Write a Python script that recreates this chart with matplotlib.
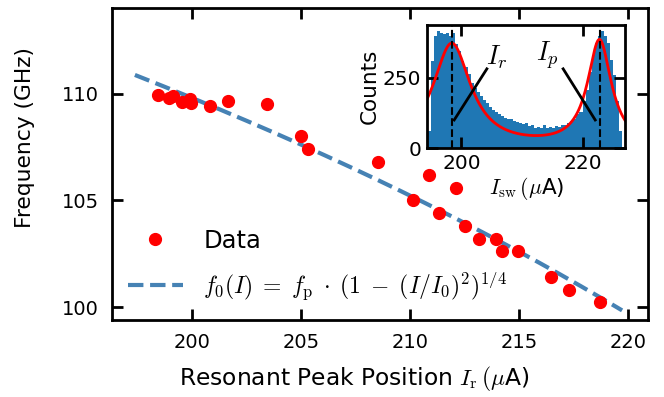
import numpy as np
import matplotlib
matplotlib.use("Agg")
import matplotlib.pyplot as plt

plt.rcParams['mathtext.fontset'] = 'cm'
plt.rcParams['font.family'] = ['DejaVu Sans']

# Main data: resonant peak position (uA) vs frequency (GHz)
peak_pos = [198.43, 198.96, 199.14, 199.57, 199.91, 199.94, 200.83, 201.64, 203.44,
            205.00, 205.33, 208.51, 210.88, 212.11, 210.11, 211.33, 212.52, 213.17,
            213.93, 214.23, 214.94, 216.45, 217.29, 218.72]
frequency = [109.95, 109.80, 109.91, 109.61, 109.75, 109.56, 109.44, 109.67, 109.52,
             108.02, 107.40, 106.80, 106.20, 105.58, 105.00, 104.41, 103.78, 103.20,
             103.20, 102.61, 102.61, 101.42, 100.81, 100.22]

# Fit parameters for f0(I) = fp * (1 - (I/I0)^2)^(1/4)
fit_fp = 138.48
fit_I0 = 257.2
fit_range = (197.39, 219.71)

# Inset histogram of switching currents
hist_edges_start = 194.5
hist_bin_width = 0.5
hist_counts = [60, 310, 400, 415, 410, 405, 408, 400, 410, 370, 345, 310, 290, 262, 232,
               215, 200, 186, 172, 160, 145, 135, 130, 120, 114, 108, 104, 103, 98, 94,
               91, 85, 88, 78, 81, 73, 75, 71, 83, 72, 75, 71, 78, 75, 83, 81, 88, 95,
               104, 120, 130, 166, 208, 270, 332, 374, 400, 415, 400, 374, 312, 260, 166, 62]

# Inset fit: two Lorentzian peaks
lor_amp = [370, 378]
lor_center = [198.4, 222.8]
lor_width = [3.8, 2.4]
peak_lines = [198.5, 222.9]

fig = plt.figure(figsize=(6.64, 3.97), dpi=100)
ax = fig.add_axes([0.168, 0.193, 0.808, 0.786])

ax.plot(peak_pos, frequency, 'o', color='red', ms=8.5, label='Data', zorder=3)
I = np.linspace(fit_range[0], fit_range[1], 300)
f0 = fit_fp * (1 - (I / fit_I0) ** 2) ** 0.25
ax.plot(I, f0, '--', color='#4682B4', lw=3,
        label=r'$f_0(I)\;=\;f_{\rm p}\;\cdot\;(1\;-\;(I/I_0)^2)^{1/4}$', zorder=2)

ax.set_xlim(196.32, 220.9)
ax.set_ylim(99.38, 114.0)
ax.set_xticks([200, 205, 210, 215, 220])
ax.set_yticks([100, 105, 110])
ax.tick_params(direction='in', top=True, right=True, length=8, width=2, labelsize=14, pad=9)
for s in ax.spines.values():
    s.set_linewidth(2)
ax.set_xlabel(r'Resonant Peak Position $I_{\rm r}\,(\mu$A)', fontsize=16.8)
ax.set_ylabel('Frequency (GHz)', fontsize=15.7)
ax.xaxis.set_label_coords(0.453, -0.14)
ax.yaxis.set_label_coords(-0.142, 0.585)
leg = ax.legend(loc='lower left', frameon=False, fontsize=17.5, handlelength=2.25,
                bbox_to_anchor=(-0.01, -0.012), labelspacing=0.68, handletextpad=0.85)
leg.get_texts()[1].set_fontsize(17)

# Inset
ins = fig.add_axes([0.643, 0.627, 0.299, 0.31])
edges = hist_edges_start + hist_bin_width * np.arange(len(hist_counts) + 1)
ins.bar(edges[:-1], hist_counts, width=hist_bin_width, align='edge', color='#1f77b4',
        linewidth=0)
Ix = np.linspace(194.3, 227.1, 400)
fit = np.zeros_like(Ix)
for a, c, w in zip(lor_amp, lor_center, lor_width):
    fit += a * w ** 2 / ((Ix - c) ** 2 + w ** 2)
ins.plot(Ix, fit, color='red', lw=2)
for p in peak_lines:
    ins.axvline(p, color='black', ls='--', lw=1.5)
ins.plot([198.8, 204.2], [100, 282], color='black', lw=2)
ins.plot([216.8, 222.1], [282, 100], color='black', lw=2)
ins.text(204.0, 275, r'$I_r$', fontsize=19, ha='left', va='bottom')
ins.text(216.0, 275, r'$I_p$', fontsize=19, ha='right', va='bottom')
ins.set_xlim(194.3, 227.1)
ins.set_ylim(0, 438)
ins.set_xticks([200, 220])
ins.set_yticks([0, 250])
ins.tick_params(direction='in', top=True, right=True, length=8, width=2, labelsize=14.5, pad=4)
for s in ins.spines.values():
    s.set_linewidth(2)
ins.set_xlabel(r'$I_{\rm sw}\,(\mu$A)', fontsize=15.5, labelpad=2)
ins.set_ylabel('Counts', fontsize=15.5, labelpad=2)

fig.savefig('out.png', dpi=100)
